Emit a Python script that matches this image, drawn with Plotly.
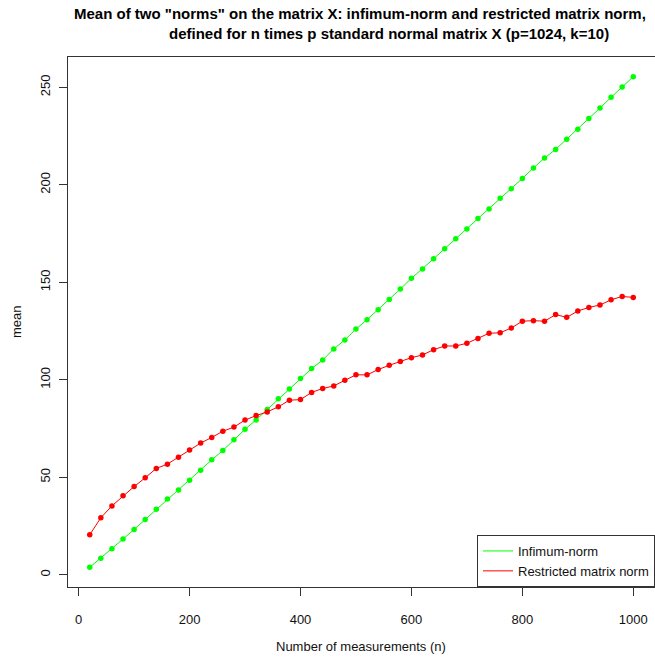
import plotly.graph_objects as go

# Number of measurements n
n_values = [20, 40, 60, 80, 100, 120, 140, 160, 180, 200,
            220, 240, 260, 280, 300, 320, 340, 360, 380, 400,
            420, 440, 460, 480, 500, 520, 540, 560, 580, 600,
            620, 640, 660, 680, 700, 720, 740, 760, 780, 800,
            820, 840, 860, 880, 900, 920, 940, 960, 980, 1000]

# Mean infimum-norm
infimum_norm = [3.8, 8.5, 13.3, 18.3, 23.2, 28.3, 33.6, 38.8, 43.5, 48.5,
                53.6, 58.9, 63.7, 69.2, 74.6, 79.4, 84.7, 90.2, 95.3, 100.6,
                105.7, 110.1, 115.8, 120.4, 126.0, 130.8, 135.9, 141.2, 146.5, 152.0,
                156.8, 162.0, 167.2, 172.3, 177.3, 182.7, 187.6, 193.0, 197.9, 203.2,
                208.6, 213.7, 218.1, 223.3, 228.4, 233.9, 239.3, 244.8, 250.1, 255.4]

# Mean restricted matrix norm
restricted_norm = [20.5, 29.2, 35.3, 40.5, 45.2, 49.7, 54.5, 56.7, 60.3, 63.9,
                   67.5, 70.4, 73.6, 75.7, 79.3, 81.6, 83.5, 86.1, 89.5, 89.8,
                   93.5, 95.5, 96.8, 99.7, 102.5, 102.5, 105.2, 107.4, 109.3, 111.3,
                   112.7, 115.4, 117.3, 117.3, 118.7, 121.1, 123.8, 124.1, 126.5, 130.0,
                   130.3, 130.0, 133.4, 132.0, 135.2, 137.1, 138.3, 141.0, 142.7, 142.2]

x_ticks = [0, 200, 400, 600, 800, 1000]
y_ticks = [0, 50, 100, 150, 200, 250]

GREEN = "#00ff00"
RED = "#ff0000"
FONT = "Liberation Sans, Arial, sans-serif"

fig = go.Figure()

for name, vals, col in [("Infimum-norm", infimum_norm, GREEN),
                        ("Restricted matrix norm", restricted_norm, RED)]:
    fig.add_trace(go.Scatter(
        x=n_values, y=vals, mode="lines+markers", showlegend=False,
        line=dict(color=col, width=1),
        marker=dict(color=col, size=5.5),
    ))

# Legend keys: lines only
for name, col in [("Infimum-norm", GREEN), ("Restricted matrix norm", RED)]:
    fig.add_trace(go.Scatter(
        x=[None], y=[None], mode="lines", name=name,
        line=dict(color=col, width=1),
    ))

W, H = 655, 657
L, R, T, B = 68, 0, 57, 70
pw, ph = W - L - R, H - T - B


def px(xp):
    return (xp - L) / pw


def py(yp):
    return (H - B - yp) / ph


axis_common = dict(
    showgrid=False, zeroline=False, showline=True, linecolor="#333",
    linewidth=1, mirror=True, ticks="outside", ticklen=8, tickwidth=1,
    tickcolor="#333", tickfont=dict(family=FONT, size=13, color="#111"),
)

fig.update_xaxes(range=[-19.2, 1039.2], tickvals=x_ticks, ticklabelstandoff=12,
                 **axis_common)
fig.update_yaxes(range=[-6.3, 265.5], tickvals=y_ticks, tickangle=-90,
                 ticklabelstandoff=4, **axis_common)

title_font = dict(family=FONT, size=15, color="#000")
fig.add_annotation(text='<b>Mean of two "norms" on the matrix X: infimum-norm and restricted matrix norm,</b>',
                   xref="paper", yref="paper", x=px(359.5), y=py(13.5),
                   xanchor="center", yanchor="middle", showarrow=False, font=title_font)
fig.add_annotation(text="<b>defined for n times p standard normal matrix X (p=1024, k=10)</b>",
                   xref="paper", yref="paper", x=px(389), y=py(33),
                   xanchor="center", yanchor="middle", showarrow=False, font=title_font)
fig.add_annotation(text="Number of measurements (n)", xref="paper", yref="paper",
                   x=px(361), y=py(646), xanchor="center", yanchor="middle",
                   showarrow=False, font=dict(family=FONT, size=13, color="#111"))
fig.add_annotation(text="mean", xref="paper", yref="paper", textangle=-90,
                   x=px(16), y=0.5, xanchor="center", yanchor="middle",
                   showarrow=False, font=dict(family=FONT, size=13, color="#111"))

fig.update_layout(
    width=W, height=H,
    margin=dict(l=L, r=R, t=T, b=B),
    paper_bgcolor="white", plot_bgcolor="white",
    legend=dict(x=px(477), y=0, xanchor="left", yanchor="bottom",
                bgcolor="white", bordercolor="#333", borderwidth=1,
                font=dict(family=FONT, size=13, color="#111"),
                itemwidth=30, tracegroupgap=0),
)

fig.write_html("out.html")
